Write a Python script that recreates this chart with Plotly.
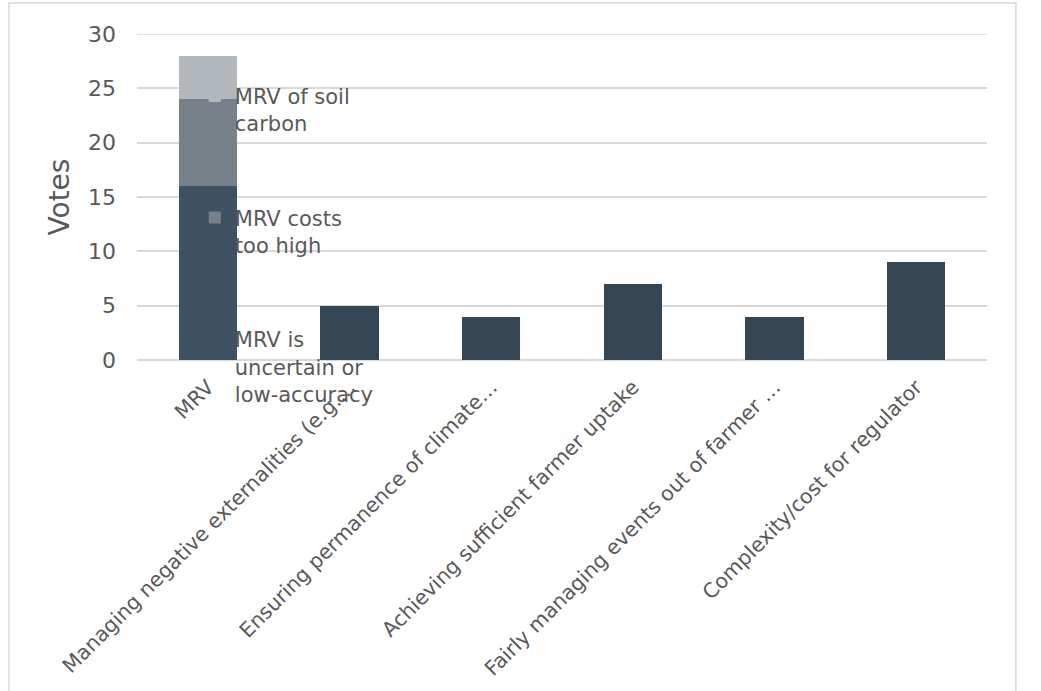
import plotly.graph_objects as go

categories = [
    "MRV",
    "Managing negative externalities (e.g.…",
    "Ensuring permanence of climate…",
    "Achieving sufficient farmer uptake",
    "Fairly managing events out of farmer …",
    "Complexity/cost for regulator",
]

# MRV breakdown (stacked)
mrv_series = ["MRV is<br>uncertain or<br>low-accuracy", "MRV costs<br>too high", "MRV of soil<br>carbon"]
mrv_values = [16, 8, 4]
mrv_colors = ["#3e5263", "#78818a", "#b3b8bc"]

# Other categories
other_categories = categories[1:]
other_values = [5, 4, 7, 4, 9]
other_color = "#344553"

y_ticks = [0, 5, 10, 15, 20, 25, 30]

FONT = "Verdana, DejaVu Sans, sans-serif"
TEXT = "#595959"
GRID = "#d9d9d9"

fig = go.Figure()
for i, (name, val, col) in enumerate(zip(mrv_series, mrv_values, mrv_colors)):
    fig.add_trace(go.Bar(
        x=[categories[0]], y=[val], name=name,
        marker=dict(color=col, line=dict(width=0)),
        legendgroup=f"g{i}",
        legendrank=len(mrv_series) - i,
    ))
fig.add_trace(go.Bar(
    x=other_categories, y=other_values, name="Other",
    marker=dict(color=other_color, line=dict(width=0)),
    showlegend=False,
))

fig.update_layout(
    width=1041, height=691,
    barmode="stack",
    bargap=0.59,
    paper_bgcolor="white",
    plot_bgcolor="white",
    margin=dict(l=137, r=54, t=34, b=331, autoexpand=False),
    font=dict(family=FONT, color=TEXT),
    legend=dict(
        x=0.068, y=0.872, xanchor="left", yanchor="top",
        bgcolor="rgba(0,0,0,0)",
        traceorder="grouped",
        tracegroupgap=64,
        valign="top",
        maxheight=600,
        font=dict(family=FONT, size=21, color=TEXT),
    ),
    shapes=[
        dict(
            type="rect", xref="paper", yref="paper",
            x0=-0.1506, x1=1.034, y0=-1.2, y1=1.095,
            line=dict(color=GRID, width=1.5), layer="below",
        ),
        # top gridline (at the range edge, which plotly skips)
        dict(
            type="line", xref="paper", yref="y",
            x0=0, x1=1, y0=y_ticks[-1], y1=y_ticks[-1],
            line=dict(color=GRID, width=1.5), layer="below",
        ),
    ],
)

fig.update_xaxes(
    type="category",
    categoryorder="array", categoryarray=categories,
    tickangle=-45,
    tickfont=dict(family=FONT, size=20.5, color=TEXT),
    ticklabelstandoff=10,
    showgrid=False, showline=False, ticks="",
)
fig.update_yaxes(
    range=[0, 30],
    tickvals=y_ticks,
    tickfont=dict(family=FONT, size=22, color=TEXT),
    ticklabelstandoff=20,
    showgrid=True, gridcolor=GRID, gridwidth=1.5,
    zeroline=True, zerolinecolor=GRID, zerolinewidth=1.5,
    showline=False, ticks="",
    title=dict(text="Votes", font=dict(family=FONT, size=28, color=TEXT), standoff=10),
)

fig.write_html("out.html")
